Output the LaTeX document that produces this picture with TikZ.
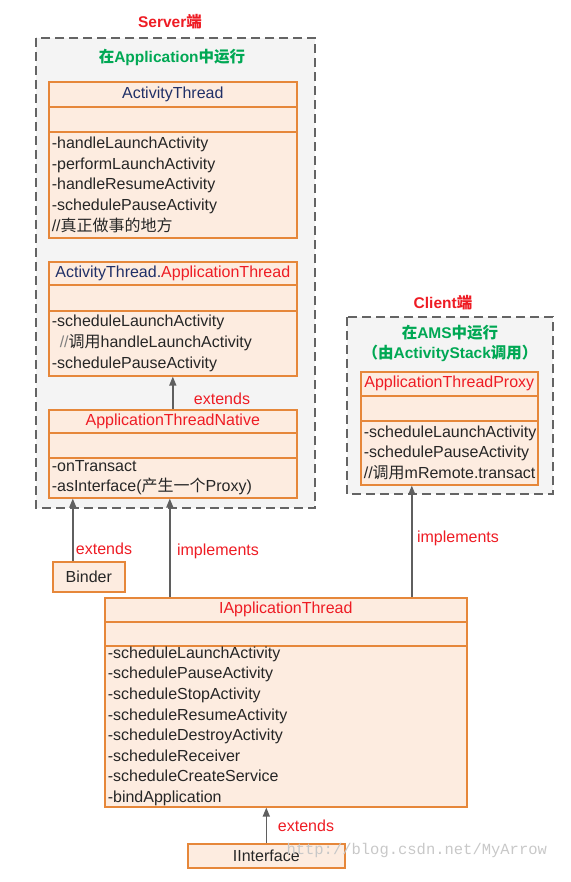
\documentclass[tikz,border=0pt]{standalone}
\usepackage{fontspec}
\setmainfont{Liberation Sans}
\setmonofont{Liberation Mono}
\newfontfamily\cjk[Scale=1.0]{Noto Sans CJK SC}
\usetikzlibrary{arrows.meta}

\definecolor{boxline}{RGB}{230,135,58}
\definecolor{boxfill}{RGB}{253,236,224}
\definecolor{grpline}{RGB}{100,100,100}
\definecolor{grpfill}{RGB}{244,244,244}
\definecolor{navy}{RGB}{32,48,104}
\definecolor{lblred}{RGB}{238,28,36}
\definecolor{lblgreen}{RGB}{0,168,84}
\definecolor{arrgray}{RGB}{95,95,95}
\definecolor{wmgray}{RGB}{200,200,200}

\tikzset{
  grpbox/.style={draw=grpline, fill=grpfill, line width=1.3pt, dash pattern=on 9pt off 5pt},
  clsrow/.style={draw=boxline, fill=boxfill, line width=1.6pt, inner sep=0pt, anchor=north west},
  clsbody/.style={clsrow, inner xsep=3pt, align=left, text=black!85},
  inh/.style={draw=arrgray, line width=1.4pt, -{Triangle[width=7pt,length=9pt]}},
  lbl/.style={text=lblred},
  ttl/.style={font=\fontsize{15.5}{19}\selectfont\bfseries},
}

\begin{document}
\begin{tikzpicture}[x=1pt, y=-1pt, every node/.style={font=\fontsize{16}{20.6}\selectfont}]
  \useasboundingbox (0,0) rectangle (570,882);

  % grupy (Server / Client)
  \draw[grpbox] (36,38) rectangle (315,508);
  \draw[grpbox] (347,317) rectangle (553,494);
  \node[ttl, text=lblred] (srv) at (170,22) {Server{\cjk 端}};
  \node[ttl, text=lblred] (cli) at (443,303) {Client{\cjk 端}};
  \node[ttl, text=lblgreen] (srvrun) at (172,57) {{\cjk 在}Application{\cjk 中运行}};
  \node[ttl, text=lblgreen] (clirun) at (450,333) {{\cjk 在}AMS{\cjk 中运行}};
  \node[ttl, text=lblgreen] (clicall) at (450,353) {{\cjk （由}ActivityStack{\cjk 调用）}};

  % ActivityThread
  \node[clsrow, minimum width=248, minimum height=25, text=navy] (at) at (48,81) {ActivityThread};
  \node[clsrow, minimum width=248, minimum height=25] (at-e) at (48,106) {};
  \node[clsbody, text width=242, minimum height=106] (at-b) at (48,131)
    {-handleLaunchActivity\\-performLaunchActivity\\-handleResumeActivity\\-schedulePauseActivity\\//{\cjk 真正做事的地方}};

  % ActivityThread.ApplicationThread
  \node[clsrow, minimum width=248, minimum height=23] (atat) at (48,261)
    {{\color{navy}ActivityThread.}{\color{lblred}ApplicationThread}};
  \node[clsrow, minimum width=248, minimum height=26] (atat-e) at (48,284) {};
  \node[clsbody, text width=242, minimum height=65] (atat-b) at (48,310)
    {-scheduleLaunchActivity\\\hspace*{8pt}{\color{gray}//}{\cjk 调用}handleLaunchActivity\\-schedulePauseActivity};

  % ApplicationThreadNative
  \node[clsrow, minimum width=248, minimum height=23, text=lblred] (atn) at (48,409) {ApplicationThreadNative};
  \node[clsrow, minimum width=248, minimum height=25] (atn-e) at (48,432) {};
  \node[clsbody, text width=242, minimum height=40] (atn-b) at (48,457)
    {-onTransact\\-asInterface({\cjk 产生一个}Proxy)};

  % ApplicationThreadProxy
  \node[clsrow, minimum width=177, minimum height=24, text=lblred] (prx) at (360,371) {ApplicationThreadProxy};
  \node[clsrow, minimum width=177, minimum height=25] (prx-e) at (360,395) {};
  \node[clsbody, text width=171, minimum height=64] (prx-b) at (360,420)
    {\mbox{-scheduleLaunchActivity}\\\mbox{-schedulePauseActivity}\\\mbox{//{\cjk 调用}mRemote.transact}};

  % Binder
  \node[clsrow, minimum width=72, minimum height=30, text=black!85] (binder) at (52,561) {Binder};

  % IApplicationThread
  \node[clsrow, minimum width=362, minimum height=24, text=lblred] (iat) at (104,597) {IApplicationThread};
  \node[clsrow, minimum width=362, minimum height=24] (iat-e) at (104,621) {};
  \node[clsbody, text width=356, minimum height=161] (iat-b) at (104,645)
    {-scheduleLaunchActivity\\-schedulePauseActivity\\-scheduleStopActivity\\-scheduleResumeActivity\\-scheduleDestroyActivity\\-scheduleReceiver\\-scheduleCreateService\\-bindApplication};

  % IInterface
  \node[clsrow, minimum width=157, minimum height=24, text=black!85] (iif) at (187,843) {IInterface};

  % strzalki
  \coordinate (binder-up) at ([xshift=-16pt]binder.north);
  \coordinate (iat-l) at ([xshift=-116pt]iat.north);
  \coordinate (iat-r) at ([xshift=126pt]iat.north);
  \draw[inh] (atn.north) -- (atat-b.south);
  \draw[inh] (binder-up) -- (binder-up |- atn-b.south);
  \draw[inh] (iat-l) -- (iat-l |- atn-b.south);
  \draw[inh] (iat-r) -- (iat-r |- prx-b.south);
  \draw[inh] (iif.north) -- (iif.north |- iat-b.south);

  \node[lbl] (ext1) at (222,399) {extends};
  \node[lbl] (ext2) at (104,549) {extends};
  \node[lbl] (impl1) at (218,551) {implements};
  \node[lbl] (impl2) at (458,538) {implements};
  \node[lbl] (ext3) at (306,826) {extends};

  % znak wodny
  \node[anchor=west, text=wmgray, font=\ttfamily\fontsize{15.5}{18}\selectfont] (wm) at (283,850) {http://blog.csdn.net/MyArrow};
\end{tikzpicture}
\end{document}
